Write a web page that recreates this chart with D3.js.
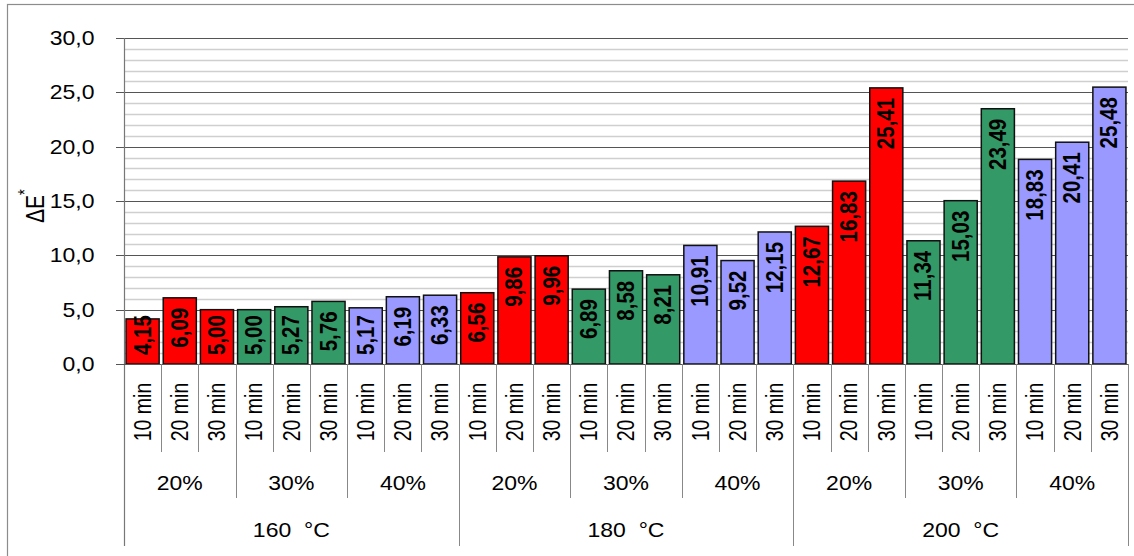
<!DOCTYPE html>
<html>
<head>
<meta charset="utf-8">
<script src="https://cdn.jsdelivr.net/npm/d3@7"></script>
<style>
  html, body { margin: 0; padding: 0; background: #fff; }
  svg { display: block; font-family: Arial, "Liberation Sans", sans-serif; }
  text { white-space: pre; }
</style>
</head>
<body>
<svg id="chart" width="1134" height="556"></svg>
<script>
// ΔE* colour difference by temperature, concentration and time
const temperatures = ["160  °C", "180  °C", "200  °C"];
const concentrations = ["20%", "30%", "40%"];
const times = ["10 min", "20 min", "30 min"];
const concColors = ["#FF0000", "#339966", "#9999FF"];

const values160 = [4.15, 6.09, 5.00, 5.00, 5.27, 5.76, 5.17, 6.19, 6.33];
const values180 = [6.56, 9.86, 9.96, 6.89, 8.58, 8.21, 10.91, 9.52, 12.15];
const values200 = [12.67, 16.83, 25.41, 11.34, 15.03, 23.49, 18.83, 20.41, 25.48];

const yTicks = [0, 5, 10, 15, 20, 25, 30];
const yMinor = d3.range(0, 31, 1);

// Flatten into rows: one per bar
const seriesByTemp = [values160, values180, values200];
const rows = [];
seriesByTemp.forEach((vals, ti) => {
  vals.forEach((v, k) => {
    const ci = Math.floor(k / 3), mi = k % 3;
    rows.push({ id: `${ti}-${ci}-${mi}`, ti, ci, mi, value: v });
  });
});

const svg = d3.select("#chart");
const plotLeft = 124, plotRight = 1128, plotTop = 38, plotBase = 364;
const sx = 1.15;  // horizontal text stretch
const sxr = 1.25; // stretch for rotated axis text
const fmt = v => d3.format(".2f")(v).replace(".", ",");
const fmtTick = v => d3.format(".1f")(v).replace(".", ",");

const x = d3.scaleBand().domain(rows.map(d => d.id)).range([plotLeft, plotRight]).padding(0);
const xBar = d3.scaleBand().domain(rows.map(d => d.id)).range([plotLeft, plotRight])
  .paddingInner(0.11).paddingOuter(0.055);
const y = d3.scaleLinear().domain([0, 30]).range([plotBase, plotTop]);

// Outer frame
svg.append("rect").attr("x", 7.5).attr("y", 4.5).attr("width", 1140).attr("height", 560)
  .attr("fill", "none").attr("stroke", "#8c8c8c").attr("stroke-width", 1.2);

// Minor gridlines
svg.append("g").selectAll("line").data(yMinor.filter(v => v % 5 !== 0)).join("line")
  .attr("x1", plotLeft).attr("x2", plotRight)
  .attr("y1", d => Math.round(y(d)) + 0.5).attr("y2", d => Math.round(y(d)) + 0.5)
  .attr("stroke", "#cfcfcf").attr("stroke-width", 1.3);

// Major gridlines with tick marks
svg.append("g").selectAll("line").data(yTicks.filter(v => v > 0)).join("line")
  .attr("x1", plotLeft - 8).attr("x2", plotRight)
  .attr("y1", d => Math.round(y(d)) + 0.5).attr("y2", d => Math.round(y(d)) + 0.5)
  .attr("stroke", "#555").attr("stroke-width", 1);

// Y-axis tick labels
svg.append("g").selectAll("text").data(yTicks).join("text")
  .attr("transform", d => `translate(94.5,${y(d)}) scale(${sx},1)`)
  .attr("text-anchor", "end").attr("dominant-baseline", "central")
  .attr("font-size", 20).attr("fill", "#000")
  .text(fmtTick);

// Y-axis title
const yt = svg.append("text")
  .attr("transform", `translate(34,223) scale(${sxr},1) rotate(-90)`)
  .attr("text-anchor", "start").attr("dominant-baseline", "central")
  .attr("font-size", 21).attr("fill", "#000");
yt.append("tspan").text("ΔE");
yt.append("tspan").attr("dy", -8).attr("font-size", 15).text("*");

// Bars
svg.append("g").selectAll("rect").data(rows).join("rect")
  .attr("x", d => xBar(d.id)).attr("width", xBar.bandwidth())
  .attr("y", d => y(d.value)).attr("height", d => plotBase - y(d.value))
  .attr("fill", d => concColors[d.ci])
  .attr("stroke", "#111").attr("stroke-width", 1.5);

// Value labels inside the bars
const vl = svg.append("g").selectAll("text").data(rows).join("text")
  .attr("text-anchor", "end").attr("dominant-baseline", "central")
  .attr("font-size", 20.5).attr("font-weight", "bold").attr("fill", "#000")
  .text(d => fmt(d.value));
vl.attr("transform", function(d) {
  const len = this.getComputedTextLength();
  const ty = Math.min(y(d.value) + 10, plotBase - 9 - len);
  return `translate(${x(d.id) + x.bandwidth() / 2},${ty}) scale(${sx},1) rotate(-90)`;
});

// Axis lines
svg.append("line").attr("x1", plotLeft + 0.5).attr("x2", plotLeft + 0.5).attr("y1", plotTop).attr("y2", 546)
  .attr("stroke", "#777").attr("stroke-width", 1.2);
svg.append("line").attr("x1", plotLeft - 8).attr("x2", plotRight).attr("y1", plotBase + 0.5).attr("y2", plotBase + 0.5)
  .attr("stroke", "#555").attr("stroke-width", 1.2);

// Category separators: time, concentration, temperature levels
const sep = svg.append("g").attr("stroke", "#888").attr("stroke-width", 1);
rows.forEach((d, i) => {
  if (i === 0) return;
  const xx = Math.round(x(d.id)) + 0.5;
  const y2 = i % 9 === 0 ? 546 : (i % 3 === 0 ? 498 : 452);
  sep.append("line").attr("x1", xx).attr("x2", xx).attr("y1", plotBase).attr("y2", y2);
});
sep.append("line").attr("x1", plotRight + 0.5).attr("x2", plotRight + 0.5).attr("y1", plotBase).attr("y2", 546);

// Time labels
svg.append("g").selectAll("text").data(rows).join("text")
  .attr("transform", d => `translate(${x(d.id) + x.bandwidth() / 2},412) scale(${sxr},1) rotate(-90)`)
  .attr("text-anchor", "middle").attr("dominant-baseline", "central")
  .attr("font-size", 19.5).attr("fill", "#000")
  .text(d => times[d.mi]);

// Concentration labels
const groups = rows.filter(d => d.mi === 0);
svg.append("g").selectAll("text").data(groups).join("text")
  .attr("transform", d => `translate(${x(d.id) + x.step() * 1.5},483) scale(${sx},1)`)
  .attr("text-anchor", "middle").attr("dominant-baseline", "central")
  .attr("font-size", 20).attr("fill", "#000")
  .text(d => concentrations[d.ci]);

// Temperature labels
const temps = rows.filter(d => d.ci === 0 && d.mi === 0);
svg.append("g").selectAll("text").data(temps).join("text")
  .attr("transform", d => `translate(${x(d.id) + x.step() * 4.5},530) scale(${sx},1)`)
  .attr("text-anchor", "middle").attr("dominant-baseline", "central")
  .attr("font-size", 20).attr("fill", "#000")
  .text(d => temperatures[d.ti]);
</script>
</body>
</html>
